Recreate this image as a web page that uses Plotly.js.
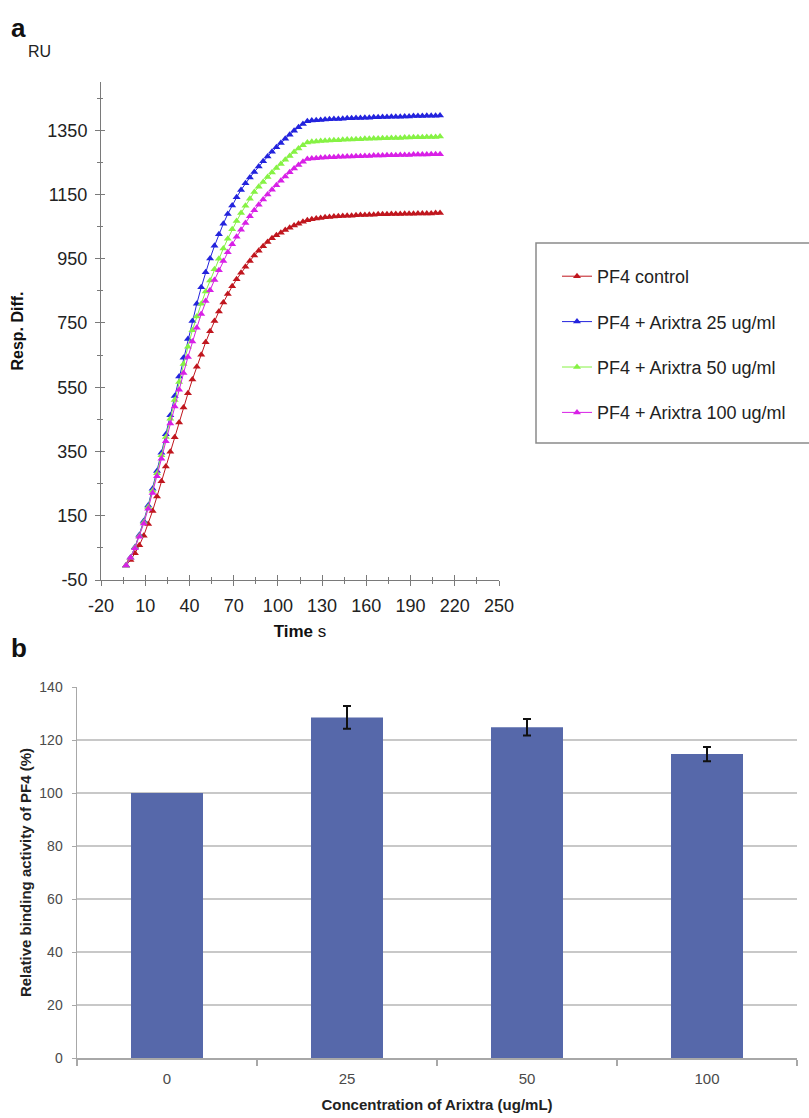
<!DOCTYPE html>
<html><head><meta charset="utf-8">
<script src="https://cdn.plot.ly/plotly-3.0.1.min.js"></script>
<style>html,body{margin:0;padding:0;background:#fff;} #chart{width:809px;height:1118px;}</style>
</head><body><div id="chart"></div>
<script>
// ---- Panel a: SPR sensorgram ----
const timeSeconds = [-3,0,3,6,9,12,15,18,21,24,27,30,33,36,39,42,45,48,51,54,57,60,63,66,69,72,75,78,81,84,87,90,93,96,99,102,105,108,111,114,117,120,
  123,126,129,132,135,138,141,144,147,150,153,156,159,162,165,168,171,174,177,180,183,186,189,192,195,198,201,204,207,210];
const pf4Control = [-5,12,33,58,88,124,165,210,257,303,349,394,440,487,531,574,614,651,690,724,756,786,814,840,864,886,906,925,943,960,975,989,1002,1014,1023,1031,1039,1046,1053,1059,1065,1070,
  1073,1075,1077,1079,1080,1081,1082,1083,1084,1084,1085,1086,1086,1087,1087,1088,1088,1088,1089,1089,1089,1090,1090,1090,1091,1091,1091,1091,1092,1092];
const arixtra25 = [-5,20,52,90,134,182,234,289,346,404,463,523,583,642,700,756,810,861,908,951,990,1026,1059,1089,1116,1141,1164,1185,1203,1220,1237,1253,1268,1283,1297,1310,1323,1336,1348,1359,1369,1378,
  1380,1381,1382,1383,1384,1385,1385,1386,1387,1387,1388,1388,1389,1389,1390,1390,1391,1391,1392,1392,1392,1393,1393,1394,1394,1394,1395,1395,1395,1396];
const arixtra50 = [-5,19,50,87,130,177,228,282,338,395,452,510,566,622,676,727,770,810,848,882,917,950,982,1012,1042,1067,1092,1115,1137,1158,1174,1189,1204,1218,1232,1245,1258,1270,1282,1293,1303,1312,
  1314,1315,1316,1317,1318,1319,1319,1320,1321,1321,1322,1322,1323,1323,1324,1324,1325,1325,1326,1326,1326,1327,1327,1328,1328,1328,1329,1329,1329,1330];
const arixtra100 = [-5,19,49,85,126,172,221,273,327,382,437,490,542,594,644,692,735,778,818,852,884,914,943,970,995,1018,1040,1061,1082,1101,1118,1134,1150,1165,1179,1193,1206,1219,1231,1242,1252,1260,
  1262,1263,1264,1265,1266,1266,1267,1267,1268,1268,1269,1269,1270,1270,1271,1271,1271,1272,1272,1272,1273,1273,1273,1274,1274,1274,1274,1275,1275,1275];
const seriesNames = ["PF4 control", "PF4 + Arixtra 25 ug/ml", "PF4 + Arixtra 50 ug/ml", "PF4 + Arixtra 100 ug/ml"];
const timeTicks = [-20, 10, 40, 70, 100, 130, 160, 190, 220, 250];
const timeTickLabels = ["-20", "10", "40", "70", "100", "130", "160", "190", "220", "250"];
const responseTicks = [-50, 150, 350, 550, 750, 950, 1150, 1350];
const responseTickLabels = ["-50", "150", "350", "550", "750", "950", "1150", "1350"];

// ---- Panel b: relative binding ----
const concentrationLabels = ["0", "25", "50", "100"];
const relativeBinding = [100, 128.5, 124.8, 114.7];
const relativeBindingError = [null, 4.3, 3.1, 2.7];

const seriesColors = ['#c0161e', '#2323dd', '#86f244', '#d820e6'];
const seriesData = [pf4Control, arixtra25, arixtra50, arixtra100];

const W = 809, H = 1118;
const px = v => v / W;
const py = v => 1 - v / H;
const sansFont = 'Liberation Sans, Arial, sans-serif';
const axisGray = '#7a7a7a';

const traces = seriesData.map((ys, i) => ({
  type: 'scatter', mode: 'lines+markers',
  x: timeSeconds, y: ys, name: seriesNames[i],
  xaxis: 'x', yaxis: 'y', legendgroup: 'g' + i,
  line: {color: seriesColors[i], width: 1},
  marker: {symbol: 'triangle-up', size: 7, color: seriesColors[i]}
}));
// empty helpers so the crossing (inside) half of each tick is drawn
traces.push({type: 'scatter', x: [], y: [], xaxis: 'x3', yaxis: 'y', showlegend: false, hoverinfo: 'skip'});
traces.push({type: 'scatter', x: [], y: [], xaxis: 'x', yaxis: 'y3', showlegend: false, hoverinfo: 'skip'});

traces.push({
  type: 'bar', x: concentrationLabels, y: relativeBinding,
  xaxis: 'x2', yaxis: 'y2', showlegend: false, width: 0.4,
  marker: {color: '#5668aa'}
});
const errIdx = relativeBindingError.map((e, i) => e == null ? -1 : i).filter(i => i >= 0);
traces.push({
  type: 'scatter', mode: 'markers',
  x: errIdx.map(i => concentrationLabels[i]), y: errIdx.map(i => relativeBinding[i]),
  xaxis: 'x2', yaxis: 'y2', showlegend: false, hoverinfo: 'skip',
  marker: {size: 1, opacity: 0},
  error_y: {type: 'data', array: errIdx.map(i => relativeBindingError[i]), visible: true, color: '#111111', thickness: 2, width: 4}
});

const xRangeA = [-20, 250], yRangeA = [-50, 1500];
const layout = {
  width: W, height: H,
  margin: {l: 0, r: 0, t: 0, b: 0},
  paper_bgcolor: '#ffffff', plot_bgcolor: 'rgba(0,0,0,0)',
  font: {family: sansFont, color: '#222222'},
  showlegend: true,
  legend: {
    x: px(557), y: py(258), xanchor: 'left', yanchor: 'top',
    font: {family: sansFont, size: 18, color: '#222222'},
    bgcolor: 'rgba(0,0,0,0)', borderwidth: 0, tracegroupgap: 19
  },
  xaxis: {
    domain: [px(101), px(499)], anchor: 'y', range: xRangeA,
    tickmode: 'array', tickvals: timeTicks, ticktext: timeTickLabels,
    ticks: 'outside', ticklen: 5, tickcolor: axisGray, tickwidth: 1,
    showline: true, linecolor: axisGray, linewidth: 1, showgrid: false, zeroline: false,
    tickfont: {size: 18, color: '#222222'}, ticklabelstandoff: 4,
    minor: {ticks: 'outside', ticklen: 3, tickmode: 'linear', tick0: -20, dtick: 15, tickcolor: axisGray, showgrid: false},
    title: {text: '<b>Time</b> s', font: {size: 17, color: '#111111'}, standoff: 10}
  },
  xaxis3: {
    overlaying: 'x', anchor: 'y', range: xRangeA,
    tickmode: 'array', tickvals: timeTicks, ticks: 'inside', ticklen: 5, tickcolor: axisGray,
    showticklabels: false, showline: false, showgrid: false, zeroline: false,
    minor: {ticks: 'inside', ticklen: 3, tickmode: 'linear', tick0: -20, dtick: 15, tickcolor: axisGray, showgrid: false}
  },
  yaxis: {
    domain: [py(580), py(82)], anchor: 'x', range: yRangeA,
    tickmode: 'array', tickvals: responseTicks, ticktext: responseTickLabels,
    ticks: 'outside', ticklen: 5, tickcolor: axisGray, tickwidth: 1,
    showline: true, linecolor: axisGray, linewidth: 1, showgrid: false, zeroline: false,
    tickfont: {size: 18, color: '#222222'}, ticklabelstandoff: 4,
    minor: {ticks: 'outside', ticklen: 3, tickmode: 'linear', tick0: -50, dtick: 100, tickcolor: axisGray, showgrid: false},
    title: {text: '<b>Resp. Diff.</b>', font: {size: 16, color: '#111111'}, standoff: 19}
  },
  yaxis3: {
    overlaying: 'y', anchor: 'x', range: yRangeA,
    tickmode: 'array', tickvals: responseTicks, ticks: 'inside', ticklen: 4, tickcolor: axisGray,
    showticklabels: false, showline: false, showgrid: false, zeroline: false,
    minor: {ticks: 'inside', ticklen: 2, tickmode: 'linear', tick0: -50, dtick: 100, tickcolor: axisGray, showgrid: false}
  },
  xaxis2: {
    domain: [px(77), px(797)], anchor: 'y2', type: 'category',
    showline: true, linecolor: '#a8a8a8', linewidth: 1.5,
    ticks: 'outside', tickson: 'boundaries', ticklen: 6, tickcolor: '#a8a8a8', tickwidth: 1.5,
    showgrid: false, zeroline: false,
    tickfont: {size: 15, color: '#4a4a4a'}, ticklabelstandoff: 6,
    title: {text: '<b>Concentration of Arixtra (ug/mL)</b>', font: {size: 15, color: '#222222'}, standoff: 14}
  },
  yaxis2: {
    domain: [py(1058), py(687)], anchor: 'x2', range: [0, 140], dtick: 20,
    showline: true, linecolor: '#a8a8a8', linewidth: 1.5,
    ticks: 'outside', ticklen: 4, tickcolor: '#a8a8a8',
    showgrid: true, gridcolor: '#c8c8c8', gridwidth: 2, zeroline: false,
    tickfont: {size: 14, color: '#4a4a4a'}, ticklabelstandoff: 6,
    title: {text: '<b>Relative binding activity of PF4 (%)</b>', font: {size: 15, color: '#222222'}, standoff: 4}
  },
  shapes: [{
    type: 'rect', xref: 'paper', yref: 'paper',
    x0: px(536), x1: px(830), y0: py(443), y1: py(243),
    line: {color: '#8a8a8a', width: 1.5}, fillcolor: 'rgba(0,0,0,0)'
  }],
  annotations: [
    {text: '<b>a</b>', xref: 'paper', yref: 'paper', x: px(9), y: py(28), xanchor: 'left', yanchor: 'middle', showarrow: false, font: {size: 26, color: '#111111'}},
    {text: 'RU', xref: 'paper', yref: 'paper', x: px(39), y: py(51), xanchor: 'center', yanchor: 'middle', showarrow: false, font: {size: 16, color: '#222222'}},
    {text: '<b>b</b>', xref: 'paper', yref: 'paper', x: px(9), y: py(648), xanchor: 'left', yanchor: 'middle', showarrow: false, font: {size: 26, color: '#111111'}}
  ]
};

Plotly.newPlot('chart', traces, layout, {staticPlot: true, displayModeBar: false});
</script>
</body></html>
